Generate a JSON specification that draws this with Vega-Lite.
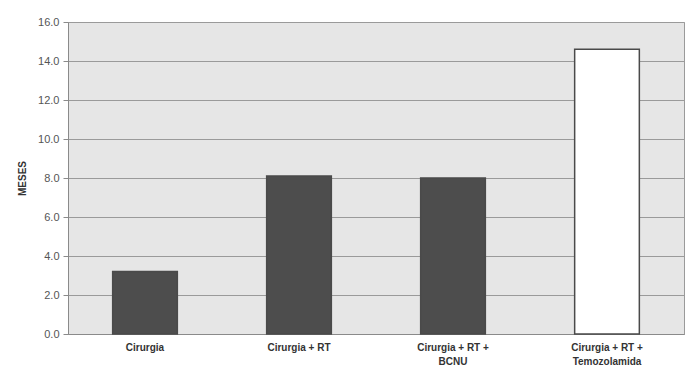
{
  "$schema": "https://vega.github.io/schema/vega-lite/v6.json",
  "width": 616,
  "height": 312,
  "autosize": {"type": "none"},
  "padding": {"left": 68, "top": 22, "right": 2, "bottom": 49},
  "background": "white",
  "config": {
    "view": {"fill": "#e6e6e6", "stroke": "#9a9a9a", "strokeWidth": 1},
    "font": "Liberation Sans"
  },
  "data": {
    "values": [
      {"tratamento": "Cirurgia", "meses": 3.2, "grupo": "a"},
      {"tratamento": "Cirurgia + RT", "meses": 8.1, "grupo": "a"},
      {"tratamento": "Cirurgia + RT + BCNU", "meses": 8.0, "grupo": "a"},
      {"tratamento": "Cirurgia + RT + Temozolamida", "meses": 14.6, "grupo": "b"}
    ]
  },
  "mark": {"type": "bar", "stroke": "#4a4a4a", "strokeWidth": 1.5},
  "encoding": {
    "x": {
      "field": "tratamento",
      "type": "nominal",
      "sort": null,
      "scale": {"paddingInner": 0.58, "paddingOuter": 0.29},
      "axis": {
        "title": null,
        "labelAngle": 0,
        "labelFontSize": 10,
        "labelFontWeight": "bold",
        "labelColor": "#333333",
        "labelPadding": 8,
        "labelLineHeight": 14,
        "ticks": false,
        "domainColor": "#8a8a8a",
        "labelExpr": "datum.label == 'Cirurgia + RT + BCNU' ? ['Cirurgia + RT +', 'BCNU'] : (datum.label == 'Cirurgia + RT + Temozolamida' ? ['Cirurgia + RT +', 'Temozolamida'] : datum.label)"
      }
    },
    "y": {
      "field": "meses",
      "type": "quantitative",
      "scale": {"domain": [0, 16]},
      "axis": {
        "title": "MESES",
        "titleFontSize": 10,
        "titleFontWeight": "bold",
        "titleColor": "#333333",
        "titlePadding": 10,
        "values": [0, 2, 4, 6, 8, 10, 12, 14, 16],
        "format": ".1f",
        "labelFontSize": 11,
        "labelColor": "#555555",
        "labelPadding": 4,
        "tickSize": 5,
        "tickColor": "#8a8a8a",
        "domainColor": "#8a8a8a",
        "gridColor": "#9a9a9a",
        "gridWidth": 1
      }
    },
    "color": {
      "field": "grupo",
      "type": "nominal",
      "scale": {"domain": ["a", "b"], "range": ["#4d4d4d", "#ffffff"]},
      "legend": null
    }
  }
}
